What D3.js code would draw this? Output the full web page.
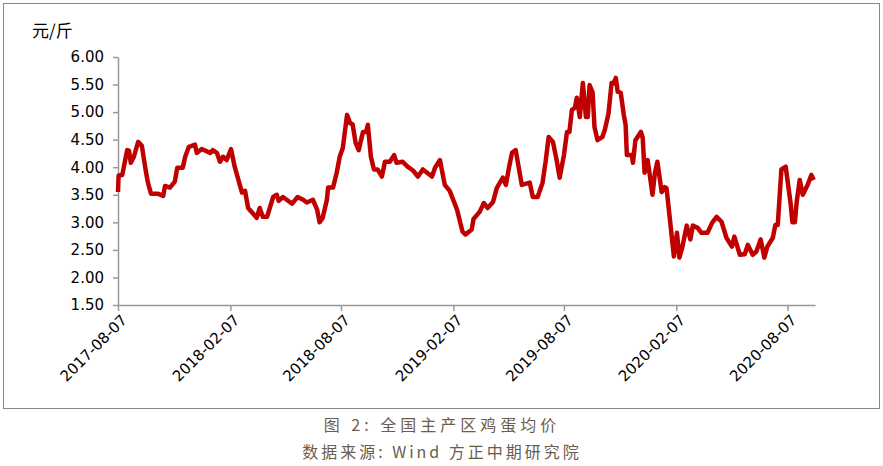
<!DOCTYPE html>
<html><head><meta charset="utf-8">
<script src="https://cdn.jsdelivr.net/npm/d3@7"></script>
<style>body{margin:0;background:#fff}text{font-family:"DejaVu Sans",Verdana,sans-serif}</style>
</head><body><svg id="chart"></svg>
<script>
// days after 2017-08-07
let days = [0,1,7,15,18,21,26,33,39,46,49,54,65,74,77,85,93,97,106,110,116,126,129,137,151,155,162,167,172,178,185,191,203,208,213,221,227,232,237,244,254,260,263,270,276,285,294,303,309,319,326,330,335,342,344,352,358,363,368,375,380,384,389,394,401,406,409,414,419,425,432,437,445,452,456,466,474,483,491,499,506,514,519,527,535,543,555,564,569,579,582,592,599,605,614,620,630,635,640,645,651,661,674,679,687,695,700,705,712,718,723,730,735,739,743,748,751,756,761,766,769,772,777,780,785,793,797,803,808,811,815,818,823,828,831,833,841,843,847,856,859,862,867,870,875,879,883,890,895,898,910,915,919,924,931,937,941,949,955,965,973,980,988,996,1005,1009,1018,1026,1031,1039,1045,1052,1058,1063,1072,1076,1080,1086,1093,1101,1104,1108,1111,1116,1121,1129,1135,1139]
let prices = [3.55,3.85,3.86,4.31,4.30,4.08,4.19,4.46,4.39,3.90,3.72,3.52,3.52,3.48,3.66,3.63,3.74,3.99,3.99,4.19,4.37,4.41,4.26,4.33,4.26,4.31,4.26,4.10,4.19,4.13,4.33,4.01,3.54,3.57,3.26,3.16,3.08,3.26,3.10,3.10,3.46,3.50,3.39,3.46,3.41,3.34,3.46,3.41,3.36,3.41,3.23,3.00,3.08,3.41,3.63,3.63,3.90,4.19,4.35,4.95,4.80,4.78,4.44,4.31,4.64,4.64,4.77,4.19,3.96,3.96,3.83,4.10,4.10,4.22,4.08,4.10,4.01,3.94,3.83,3.96,3.90,3.83,3.99,4.13,3.68,3.57,3.23,2.83,2.78,2.87,3.06,3.19,3.35,3.26,3.37,3.62,3.81,3.68,3.99,4.26,4.31,3.68,3.72,3.46,3.46,3.72,4.10,4.55,4.46,4.13,3.81,4.22,4.64,4.64,5.04,5.08,5.26,4.91,5.53,4.91,4.91,5.49,5.35,4.73,4.49,4.55,4.68,4.98,5.53,5.52,5.62,5.37,5.35,4.95,4.77,4.22,4.22,4.08,4.49,4.64,4.53,3.90,4.13,3.90,3.50,3.90,4.10,3.55,3.64,3.62,2.38,2.81,2.36,2.56,2.94,2.69,2.94,2.90,2.81,2.81,3.00,3.10,3.01,2.72,2.56,2.74,2.41,2.42,2.59,2.41,2.47,2.69,2.36,2.56,2.72,2.95,2.95,3.96,4.01,3.35,3.00,3.00,3.37,3.77,3.50,3.68,3.86,3.77]
let yTicks = [1.5,2,2.5,3,3.5,4,4.5,5,5.5,6]
let xTickLabels = ['2017-08-07','2018-02-07','2018-08-07','2019-02-07','2019-08-07','2020-02-07','2020-08-07']

let width = 883, height = 466
let padLeft = 118, padRight = 815, padTop = 57, padBottom = 305
let parse = d3.timeParse('%Y-%m-%d')
let start = parse('2017-08-07')
let values = days.map((d, i) => ({date: d3.timeDay.offset(start, d), v: prices[i]}))

let svg = d3.select('#chart').attr('width', width).attr('height', height)

svg.append('rect').attr('x', 3.5).attr('y', 3.5).attr('width', 876).attr('height', 405)
    .attr('fill', 'none').attr('stroke', '#888')

let xScale = d3.scaleTime()
    .domain([start, d3.timeDay.offset(start, 1141)])
    .range([padLeft, padRight])
let yScale = d3.scaleLinear().domain([1.5, 6]).range([padBottom, padTop])

let xAxis = d3.axisBottom(xScale).tickValues(xTickLabels.map(parse)).tickSize(6).tickSizeOuter(0).tickFormat(d3.timeFormat('%Y-%m-%d'))
let gx = svg.append('g').attr('transform', `translate(0, ${padBottom})`).call(xAxis)
gx.selectAll('text').attr('transform', 'rotate(-45)').attr('text-anchor', 'end')
    .attr('dx', '-0.3em').attr('dy', '0.6em').attr('font-size', 15).attr('fill', '#000')

let yAxis = d3.axisLeft(yScale).tickValues(yTicks).tickSize(5).tickSizeOuter(0).tickFormat(d3.format('.2f'))
let gy = svg.append('g').attr('transform', `translate(${padLeft}, 0)`).call(yAxis)
gy.selectAll('text').attr('font-size', 15).attr('fill', '#000').attr('x', -14)
svg.selectAll('.domain, .tick line').attr('stroke', '#999').attr('stroke-width', 1.5)

svg.append('path').datum(values)
    .attr('d', d3.line().x(d => xScale(d.date)).y(d => yScale(d.v)))
    .attr('fill', 'none').attr('stroke', '#c00000').attr('stroke-width', 4.5).attr('stroke-linejoin', 'round')

svg.append('text').attr('x', 32).attr('y', 37).attr('font-size', 17).text('元/斤')
    .style('font-family', '"Noto Sans CJK SC"')
svg.append('text').attr('x', 442).attr('y', 431).attr('text-anchor', 'middle').attr('font-size', 16)
    .attr('fill', '#6b5d4d').style('font-family', '"Noto Sans CJK SC"').attr('letter-spacing', 4).text('图 2: 全国主产区鸡蛋均价')
svg.append('text').attr('x', 442).attr('y', 458).attr('text-anchor', 'middle').attr('font-size', 16)
    .attr('fill', '#6b5d4d').style('font-family', '"Noto Sans CJK SC"').attr('letter-spacing', 3).text('数据来源: Wind 方正中期研究院')
</script></body></html>
